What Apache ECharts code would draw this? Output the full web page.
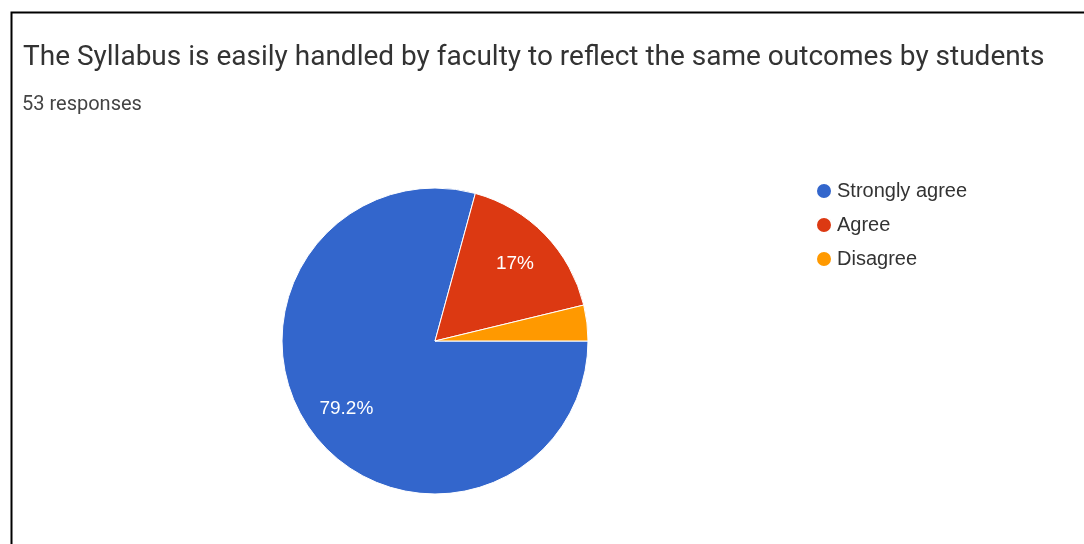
<!DOCTYPE html>
<html>
<head>
    <meta charset="utf-8">
    <script src="https://cdn.jsdelivr.net/npm/echarts@6/dist/echarts.min.js"></script>
    <style>
        html, body { margin: 0; padding: 0; background: #fff; }
    </style>
</head>
<body>
    <div id="main" style="width: 1084px;height:544px;"></div>
	<script type="text/javascript">
	var titleText = 'The Syllabus is easily handled by faculty to reflect the same outcomes by students';
	var subText = '53 responses';
	var categories = ['Strongly agree', 'Agree', 'Disagree'];
	var counts = [42, 9, 2];
	var colors = ['#3366cc', '#dc3912', '#ff9900'];

	var total = counts.reduce(function (a, b) { return a + b; }, 0);
	var pieData = categories.map(function (name, i) {
		return { name: name, value: counts[i] };
	});

	// percent text like google forms: 79.2%, 17% (small slices unlabeled)
	function pctLabel(p) {
		var v = Math.round(p.value / total * 1000) / 10;
		if (v < 5) return '';
		return v + '%';
	}

	myChart = echarts.init(document.getElementById('main'));
	myChart.setOption(option = {
		color: colors,
		animation: false,
		title: [
			{
				text: titleText,
				left: 18,
				top: 39,
				textStyle: { fontFamily: 'Roboto', fontSize: 28, fontWeight: 'normal', color: '#333' }
			},
			{
				text: subText,
				left: 17,
				top: 90,
				textStyle: { fontFamily: 'Roboto', fontSize: 20, fontWeight: 'normal', color: '#444' }
			}
		],
		legend: {
			orient: 'vertical',
			left: 810,
			top: 176,
			icon: 'circle',
			itemWidth: 16,
			itemHeight: 16,
			itemGap: 14,
			data: categories,
			textStyle: { fontFamily: 'Liberation Sans', fontSize: 20, color: '#333', lineHeight: 20 }
		},
		graphic: [
			{
				type: 'rect',
				left: 9,
				top: 10,
				shape: { width: 1100, height: 600 },
				style: { fill: 'none', stroke: '#000', lineWidth: 2 },
				silent: true
			}
		],
		series: [
			{
				type: 'pie',
				center: [435, 341],
				radius: [0, 153],
				startAngle: 0,
				clockwise: true,
				data: pieData,
				label: { show: false },
				labelLine: { show: false },
				itemStyle: { borderColor: '#fff', borderWidth: 1 },
				emphasis: { disabled: true }
			},
			{
				// transparent copy only to place the labels further out
				type: 'pie',
				center: [435, 341],
				radius: [64, 153],
				startAngle: 0,
				clockwise: true,
				silent: true,
				data: pieData,
				itemStyle: { color: 'rgba(0,0,0,0)' },
				label: {
					show: true,
					position: 'inside',
					formatter: pctLabel,
					fontFamily: 'Liberation Sans',
					fontSize: 19,
					color: '#fff'
				},
				labelLine: { show: false },
				emphasis: { disabled: true }
			}
		]
	});
	</script>
</body>
</html>
